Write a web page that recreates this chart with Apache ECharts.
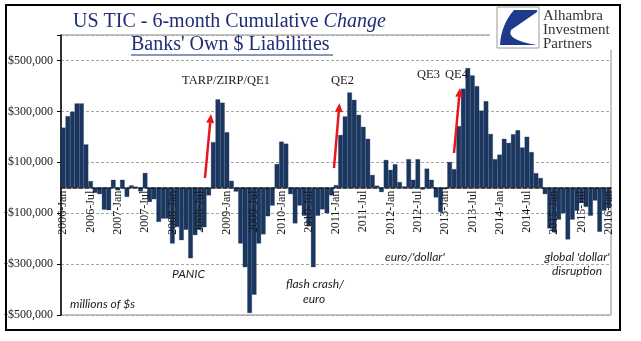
<!DOCTYPE html>
<html>
<head>
<meta charset="utf-8">
<script src="https://cdn.jsdelivr.net/npm/echarts@6.0.0/dist/echarts.min.js"></script>
<style>
  html, body { margin: 0; padding: 0; background: #fff; }
  #chart { width: 641px; height: 341px; }
</style>
</head>
<body>
<div id="chart"></div>
<script>
// Month names used to build the category labels (YYYY-Mon)
const MONTH_NAMES = ['Jan', 'Feb', 'Mar', 'Apr', 'May', 'Jun', 'Jul', 'Aug', 'Sep', 'Oct', 'Nov', 'Dec'];
const START_YEAR = 2006;
const MONTH_COUNT = 121; // 2006-Jan .. 2016-Jan

// 6-month cumulative change in banks' own dollar liabilities, millions of $
const changeValues = [
  236000, 281000, 298000, 331000, 331000, 170000, 26000, -20000, -25000, -86000, -88000, 31000,          // 2006
  -10000, 31000, -36000, 9000, 4000, -14000, 58000, -56000, -45000, -134000, -121000, -121000,           // 2007
  -219000, -154000, -206000, -165000, -277000, -186000, -165000, -155000, -30000, 179000, 347000, 334000, // 2008
  218000, 27000, -15000, -219000, -312000, -492000, -420000, -219000, -183000, -112000, -70000, 93000,    // 2009
  181000, 173000, -25000, -140000, -70000, -110000, -150000, -312000, -110000, -85000, -100000, -30000,  // 2010
  10000, 207000, 280000, 374000, 345000, 286000, 239000, 192000, 50000, 8000, -17000, 109000,            // 2011
  70000, 92000, 22000, 5000, 112000, 31000, 112000, -7000, 75000, 31000, -38000, -95000,                 // 2012
  -6000, 101000, 73000, 242000, 389000, 470000, 441000, 399000, 303000, 340000, 211000, 112000,          // 2013
  130000, 192000, 176000, 210000, 226000, 158000, 200000, 140000, 57000, 38000, -25000, -160000,         // 2014
  -175000, -125000, -100000, -203000, -125000, -90000, -60000, -75000, -110000, -50000, -173000, -90000, // 2015
  -80000                                                                                                  // 2016
];

// Value axis settings
const Y_MIN = -500000;
const Y_MAX = 600000;
const Y_STEP = 200000;

const categories = [];
for (let k = 0; k < MONTH_COUNT; k++) {
  categories.push((START_YEAR + Math.floor(k / 12)) + '-' + MONTH_NAMES[k % 12]);
}

const SERIF = "'Liberation Serif', 'Times New Roman', serif";
const SANS = "Lato, 'Open Sans', sans-serif";
const NAVY = '#1f2d78';
const RED = '#e8161e';
const BAR = '#1b365f';

function moneyLabel(v) {
  if (v >= Y_MAX) return '';
  const s = '$' + Math.abs(v).toLocaleString('en-US');
  return v < 0 ? '-' + s : s;
}

// Red arrow: shaft plus a filled triangular head
function arrow(x1, y1, x2, y2) {
  const dx = x2 - x1, dy = y2 - y1;
  const len = Math.hypot(dx, dy);
  const ux = dx / len, uy = dy / len;
  const hl = 9, hw = 4;
  const bx = x2 - ux * hl, by = y2 - uy * hl;
  return [
    { type: 'line', z: 100, shape: { x1: x1, y1: y1, x2: bx, y2: by },
      style: { stroke: RED, lineWidth: 2.5 } },
    { type: 'polygon', z: 100,
      shape: { points: [[x2, y2], [bx - uy * hw, by + ux * hw], [bx + uy * hw, by - ux * hw]] },
      style: { fill: RED } }
  ];
}

// Points along a quadratic curve, for the logo outline
function quad(p0, c, p1, n) {
  const pts = [];
  for (let k = 1; k <= n; k++) {
    const t = k / n, s = 1 - t;
    pts.push([s * s * p0[0] + 2 * s * t * c[0] + t * t * p1[0],
              s * s * p0[1] + 2 * s * t * c[1] + t * t * p1[1]]);
  }
  return pts;
}

const logoPoints = [[514, 10], [537, 10], [537, 12], [511, 30]]
  .concat(quad([511, 30], [506, 40], [537, 45], 8))
  .concat([[500, 45]])
  .concat(quad([500, 45], [501, 25], [514, 10], 8));

function label(text, x, y, opts) {
  return {
    type: 'text', z: 100, x: x, y: y,
    style: Object.assign({
      text: text, fill: '#1a1a1a', font: '12px ' + SERIF,
      textAlign: 'left', textVerticalAlign: 'middle'
    }, opts || {})
  };
}

const italicSans = { font: 'italic 12px ' + SANS, fill: '#222' };

const graphics = [
  // outer frame
  { type: 'rect', z: 90, shape: { x: 6, y: 5, width: 614, height: 325 },
    style: { fill: 'none', stroke: '#000', lineWidth: 2 } },
  // logo panel covering the plot frame corner
  { type: 'rect', z: 95, shape: { x: 490, y: 7, width: 128, height: 43 },
    style: { fill: '#fff' } },
  { type: 'rect', z: 96, shape: { x: 497, y: 7, width: 42, height: 41 },
    style: { fill: '#fff', stroke: '#9a9a9a', lineWidth: 1 } },
  { type: 'polygon', z: 97, shape: { points: logoPoints }, style: { fill: '#1d3a8c' } },
  label('Alhambra', 543, 16, { font: '15px ' + SERIF, fill: '#333' }),
  label('Investment', 543, 30, { font: '15px ' + SERIF, fill: '#333' }),
  label('Partners', 543, 44, { font: '15px ' + SERIF, fill: '#333' }),

  // titles
  { type: 'text', z: 100, x: 73, y: 22,
    style: {
      text: 'US TIC - 6-month Cumulative {i|Change}',
      font: '20px ' + SERIF, fill: NAVY, textVerticalAlign: 'middle',
      rich: { i: { fontStyle: 'italic', fontSize: 20, fontFamily: SERIF, fill: NAVY } }
    } },
  label("Banks' Own $ Liabilities", 131, 45, { font: '20px ' + SERIF, fill: NAVY }),
  { type: 'line', z: 100, shape: { x1: 131, y1: 55, x2: 333, y2: 55 },
    style: { stroke: NAVY, lineWidth: 1 } },

  // event annotations
  label('TARP/ZIRP/QE1', 182, 81, { font: '12.5px ' + SERIF }),
  label('QE2', 331, 81, { font: '12.5px ' + SERIF }),
  label('QE3', 417, 75, { font: '12.5px ' + SERIF }),
  label('QE4', 445, 75, { font: '12.5px ' + SERIF }),
  ...arrow(205, 178, 211, 114),
  ...arrow(334, 168, 339.5, 103),
  ...arrow(454, 153, 460, 88),

  label('PANIC', 172, 274, italicSans),
  label('millions of $s', 70, 304, italicSans),
  label('flash crash/', 315, 284, Object.assign({ textAlign: 'center' }, italicSans)),
  label('euro', 314, 299, Object.assign({ textAlign: 'center' }, italicSans)),
  label("euro/'dollar'", 385, 257, italicSans),
  label("global 'dollar'", 577, 257, Object.assign({ textAlign: 'center' }, italicSans)),
  label('disruption', 577, 271, Object.assign({ textAlign: 'center' }, italicSans))
];

const chart = echarts.init(document.getElementById('chart'), null, { renderer: 'canvas' });

chart.setOption({
  animation: false,
  backgroundColor: '#fff',
  grid: {
    left: 61, right: 30, top: 35, bottom: 26,
    show: true, borderColor: '#8c8c8c', borderWidth: 1,
    outerBoundsMode: 'none'
  },
  xAxis: {
    type: 'category',
    data: categories,
    z: 5,
    offset: 0,
    axisLine: { onZero: false, lineStyle: { color: '#1a1a1a', width: 1.5, type: [4, 2] } },
    axisTick: { show: false },
    axisLabel: {
      interval: 5, rotate: 90, margin: 3,
      fontFamily: SERIF, fontSize: 12, color: '#1a1a1a'
    },
    splitLine: { show: false }
  },
  yAxis: {
    type: 'value',
    min: Y_MIN, max: Y_MAX, interval: Y_STEP,
    axisLine: { show: true, lineStyle: { color: '#000', width: 1.5 } },
    axisTick: { show: true, length: 4, lineStyle: { color: '#000' } },
    axisLabel: {
      formatter: moneyLabel, margin: 8,
      fontFamily: SERIF, fontSize: 12, color: '#1a1a1a'
    },
    splitLine: { lineStyle: { color: '#a6a6a6', type: [3, 2], width: 1 } }
  },
  series: [{
    type: 'bar',
    data: changeValues,
    barCategoryGap: '0%',
    itemStyle: { color: BAR, borderColor: BAR, borderWidth: 0.3 }
  }],
  graphic: graphics
});

// Lift the category axis (line and labels) from the grid bottom to the zero level
const zeroY = chart.convertToPixel({ yAxisIndex: 0 }, 0);
const floorY = chart.convertToPixel({ yAxisIndex: 0 }, Y_MIN);
chart.setOption({ xAxis: { offset: zeroY - floorY } });
</script>
</body>
</html>
